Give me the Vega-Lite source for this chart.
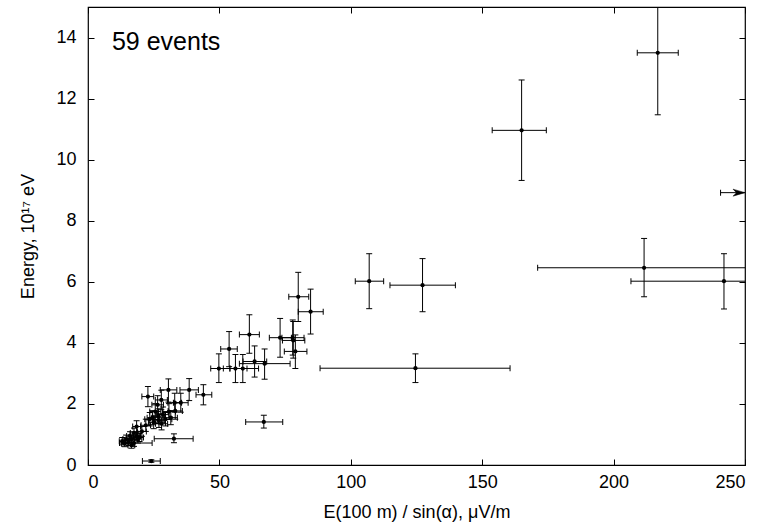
{
  "$schema": "https://vega.github.io/schema/vega-lite/v6.json",
  "width": 657,
  "height": 458,
  "autosize": {"type": "none"},
  "padding": {"left": 88, "top": 7, "right": 19, "bottom": 59},
  "background": "white",
  "config": {
    "view": {"stroke": "black", "strokeWidth": 1.2},
    "axis": {
      "domain": false, "grid": false, "ticks": true, "tickColor": "black",
      "tickSize": -6, "tickWidth": 1, "labelPadding": 10,
      "labelFont": "Liberation Sans", "labelFontSize": 18, "labelColor": "black",
      "titleFont": "Liberation Sans", "titleFontSize": 18, "titleFontWeight": "normal", "titleColor": "black"
    }
  },
  "datasets": {
    "pts": [
      {"x": 216.8, "y": 13.5, "xlo": 209.0, "xhi": 224.6, "ylo": 11.47, "yhi": 15.5},
      {"x": 165.0, "y": 10.96, "xlo": 153.8, "xhi": 174.4, "ylo": 9.32, "yhi": 12.61},
      {"x": 211.6, "y": 6.46, "xlo": 171.1, "xhi": 270, "ylo": 5.51, "yhi": 7.42},
      {"x": 242.0, "y": 6.02, "xlo": 206.6, "xhi": 280, "ylo": 5.11, "yhi": 6.92},
      {"x": 107.0, "y": 6.02, "xlo": 101.7, "xhi": 112.5, "ylo": 5.12, "yhi": 6.92},
      {"x": 127.3, "y": 5.89, "xlo": 114.9, "xhi": 139.8, "ylo": 5.02, "yhi": 6.76},
      {"x": 124.6, "y": 3.17, "xlo": 88.3, "xhi": 160.6, "ylo": 2.70, "yhi": 3.64},
      {"x": 80.0, "y": 5.51, "xlo": 76.4, "xhi": 84.0, "ylo": 4.70, "yhi": 6.31},
      {"x": 84.7, "y": 5.02, "xlo": 80.0, "xhi": 89.5, "ylo": 4.29, "yhi": 5.76},
      {"x": 61.4, "y": 4.27, "xlo": 57.6, "xhi": 65.2, "ylo": 3.66, "yhi": 4.92},
      {"x": 53.7, "y": 3.80, "xlo": 50.5, "xhi": 56.8, "ylo": 3.22, "yhi": 4.37},
      {"x": 73.1, "y": 4.17, "xlo": 69.0, "xhi": 77.4, "ylo": 3.53, "yhi": 4.80},
      {"x": 77.9, "y": 4.17, "xlo": 73.8, "xhi": 82.2, "ylo": 3.60, "yhi": 4.75},
      {"x": 78.1, "y": 4.08, "xlo": 74.0, "xhi": 82.5, "ylo": 3.50, "yhi": 4.70},
      {"x": 78.9, "y": 3.72, "xlo": 74.7, "xhi": 83.3, "ylo": 3.16, "yhi": 4.26},
      {"x": 67.2, "y": 3.32, "xlo": 57.6, "xhi": 76.9, "ylo": 2.81, "yhi": 3.80},
      {"x": 63.4, "y": 3.39, "xlo": 59.0, "xhi": 68.0, "ylo": 2.88, "yhi": 3.90},
      {"x": 58.9, "y": 3.16, "xlo": 54.0, "xhi": 64.9, "ylo": 2.70, "yhi": 3.62},
      {"x": 56.1, "y": 3.16, "xlo": 51.5, "xhi": 60.5, "ylo": 2.70, "yhi": 3.62},
      {"x": 49.8, "y": 3.16, "xlo": 46.7, "xhi": 54.0, "ylo": 2.70, "yhi": 3.64},
      {"x": 43.9, "y": 2.30, "xlo": 41.1, "xhi": 47.1, "ylo": 1.97, "yhi": 2.63},
      {"x": 38.5, "y": 2.46, "xlo": 35.0, "xhi": 42.0, "ylo": 2.11, "yhi": 2.83},
      {"x": 66.9, "y": 1.41, "xlo": 60.0, "xhi": 74.1, "ylo": 1.21, "yhi": 1.63},
      {"x": 32.7, "y": 0.86, "xlo": 25.2, "xhi": 40.0, "ylo": 0.73, "yhi": 1.02},
      {"x": 24.1, "y": 0.13, "xlo": 20.7, "xhi": 27.5, "ylo": 0.09, "yhi": 0.17},
      {"x": 22.8, "y": 2.24, "xlo": 20.5, "xhi": 25.0, "ylo": 1.91, "yhi": 2.57},
      {"x": 30.6, "y": 2.46, "xlo": 27.5, "xhi": 33.8, "ylo": 2.06, "yhi": 2.82},
      {"x": 27.9, "y": 2.13, "xlo": 25.6, "xhi": 30.2, "ylo": 1.81, "yhi": 2.45},
      {"x": 33.0, "y": 2.04, "xlo": 30.4, "xhi": 35.6, "ylo": 1.73, "yhi": 2.35},
      {"x": 35.3, "y": 2.04, "xlo": 32.5, "xhi": 38.1, "ylo": 1.73, "yhi": 2.35},
      {"x": 26.5, "y": 1.97, "xlo": 24.3, "xhi": 28.7, "ylo": 1.67, "yhi": 2.27},
      {"x": 25.6, "y": 1.75, "xlo": 23.5, "xhi": 27.7, "ylo": 1.49, "yhi": 2.01},
      {"x": 30.8, "y": 1.75, "xlo": 28.3, "xhi": 33.3, "ylo": 1.49, "yhi": 2.01},
      {"x": 33.2, "y": 1.77, "xlo": 30.5, "xhi": 35.9, "ylo": 1.50, "yhi": 2.04},
      {"x": 24.5, "y": 1.55, "xlo": 22.5, "xhi": 26.5, "ylo": 1.32, "yhi": 1.78},
      {"x": 26.8, "y": 1.60, "xlo": 24.6, "xhi": 29.0, "ylo": 1.36, "yhi": 1.84},
      {"x": 28.5, "y": 1.65, "xlo": 26.2, "xhi": 30.8, "ylo": 1.40, "yhi": 1.90},
      {"x": 29.5, "y": 1.50, "xlo": 27.1, "xhi": 31.9, "ylo": 1.28, "yhi": 1.72},
      {"x": 27.0, "y": 1.45, "xlo": 24.8, "xhi": 29.2, "ylo": 1.23, "yhi": 1.67},
      {"x": 25.0, "y": 1.40, "xlo": 23.0, "xhi": 27.0, "ylo": 1.19, "yhi": 1.61},
      {"x": 23.5, "y": 1.50, "xlo": 21.6, "xhi": 25.4, "ylo": 1.28, "yhi": 1.72},
      {"x": 31.5, "y": 1.55, "xlo": 29.0, "xhi": 34.0, "ylo": 1.32, "yhi": 1.78},
      {"x": 28.0, "y": 1.35, "xlo": 25.7, "xhi": 30.3, "ylo": 1.15, "yhi": 1.55},
      {"x": 22.0, "y": 1.30, "xlo": 20.2, "xhi": 23.8, "ylo": 1.10, "yhi": 1.50},
      {"x": 18.5, "y": 1.26, "xlo": 17.0, "xhi": 20.0, "ylo": 1.07, "yhi": 1.45},
      {"x": 20.5, "y": 1.10, "xlo": 18.8, "xhi": 22.2, "ylo": 0.94, "yhi": 1.26},
      {"x": 17.5, "y": 1.05, "xlo": 16.1, "xhi": 18.9, "ylo": 0.89, "yhi": 1.21},
      {"x": 16.0, "y": 0.95, "xlo": 14.7, "xhi": 17.3, "ylo": 0.81, "yhi": 1.09},
      {"x": 18.5, "y": 0.95, "xlo": 17.0, "xhi": 20.0, "ylo": 0.81, "yhi": 1.09},
      {"x": 14.5, "y": 0.85, "xlo": 13.3, "xhi": 15.7, "ylo": 0.72, "yhi": 0.98},
      {"x": 16.5, "y": 0.85, "xlo": 15.2, "xhi": 17.8, "ylo": 0.72, "yhi": 0.98},
      {"x": 19.0, "y": 0.85, "xlo": 17.5, "xhi": 20.5, "ylo": 0.72, "yhi": 0.98},
      {"x": 13.0, "y": 0.78, "xlo": 11.9, "xhi": 14.1, "ylo": 0.66, "yhi": 0.90},
      {"x": 15.5, "y": 0.75, "xlo": 14.2, "xhi": 16.8, "ylo": 0.64, "yhi": 0.86},
      {"x": 17.5, "y": 0.72, "xlo": 12.0, "xhi": 24.4, "ylo": 0.61, "yhi": 0.83},
      {"x": 14.0, "y": 0.70, "xlo": 12.8, "xhi": 15.2, "ylo": 0.60, "yhi": 0.80},
      {"x": 16.5, "y": 0.65, "xlo": 15.2, "xhi": 17.8, "ylo": 0.55, "yhi": 0.75},
      {"x": 19.5, "y": 0.90, "xlo": 17.9, "xhi": 21.1, "ylo": 0.77, "yhi": 1.03}
    ],
    "arrow": [{"xlo": 240.7, "xhi": 250, "y": 8.92}],
    "note": [{"tx": 9.1, "ty": 13.58, "label": "59 events"}]
  },
  "resolve": {"axis": {"x": "independent", "y": "independent"}},
  "layer": [
    {
      "data": {"name": "pts"},
      "mark": {"type": "point", "opacity": 0},
      "encoding": {
        "x": {"field": "x", "type": "quantitative", "scale": {"domain": [0, 250], "nice": false},
              "axis": {"orient": "top", "labels": false, "title": null, "values": [0, 50, 100, 150, 200, 250]}},
        "y": {"field": "y", "type": "quantitative", "scale": {"domain": [0, 15], "nice": false},
              "axis": {"orient": "right", "labels": false, "title": null, "values": [0, 2, 4, 6, 8, 10, 12, 14]}}
      }
    },
    {
      "data": {"name": "pts"},
      "mark": {"type": "rule", "color": "black", "strokeWidth": 1, "clip": true},
      "encoding": {
        "x": {"field": "xlo", "type": "quantitative", "scale": {"domain": [0, 250], "nice": false}, "axis": null},
        "x2": {"field": "xhi"},
        "y": {"field": "y", "type": "quantitative", "scale": {"domain": [0, 15], "nice": false}, "axis": null}
      }
    },
    {
      "data": {"name": "pts"},
      "mark": {"type": "rule", "color": "black", "strokeWidth": 1, "clip": true},
      "encoding": {
        "x": {"field": "x", "type": "quantitative", "scale": {"domain": [0, 250], "nice": false}, "axis": null},
        "y": {"field": "ylo", "type": "quantitative", "scale": {"domain": [0, 15], "nice": false}, "axis": null},
        "y2": {"field": "yhi"}
      }
    },
    {
      "data": {"name": "pts"},
      "mark": {"type": "tick", "orient": "vertical", "size": 6, "thickness": 1, "color": "black", "opacity": 1, "clip": true},
      "encoding": {
        "x": {"field": "xlo", "type": "quantitative", "scale": {"domain": [0, 250], "nice": false}, "axis": null},
        "y": {"field": "y", "type": "quantitative", "scale": {"domain": [0, 15], "nice": false}, "axis": null}
      }
    },
    {
      "data": {"name": "pts"},
      "mark": {"type": "tick", "orient": "vertical", "size": 6, "thickness": 1, "color": "black", "opacity": 1, "clip": true},
      "encoding": {
        "x": {"field": "xhi", "type": "quantitative", "scale": {"domain": [0, 250], "nice": false}, "axis": null},
        "y": {"field": "y", "type": "quantitative", "scale": {"domain": [0, 15], "nice": false}, "axis": null}
      }
    },
    {
      "data": {"name": "pts"},
      "mark": {"type": "tick", "orient": "horizontal", "size": 6, "thickness": 1, "color": "black", "opacity": 1, "clip": true},
      "encoding": {
        "x": {"field": "x", "type": "quantitative", "scale": {"domain": [0, 250], "nice": false}, "axis": null},
        "y": {"field": "ylo", "type": "quantitative", "scale": {"domain": [0, 15], "nice": false}, "axis": null}
      }
    },
    {
      "data": {"name": "pts"},
      "mark": {"type": "tick", "orient": "horizontal", "size": 6, "thickness": 1, "color": "black", "opacity": 1, "clip": true},
      "encoding": {
        "x": {"field": "x", "type": "quantitative", "scale": {"domain": [0, 250], "nice": false}, "axis": null},
        "y": {"field": "yhi", "type": "quantitative", "scale": {"domain": [0, 15], "nice": false}, "axis": null}
      }
    },
    {
      "data": {"name": "arrow"},
      "mark": {"type": "rule", "color": "black", "strokeWidth": 1, "clip": true},
      "encoding": {
        "x": {"field": "xlo", "type": "quantitative", "scale": {"domain": [0, 250], "nice": false}, "axis": null},
        "x2": {"field": "xhi"},
        "y": {"field": "y", "type": "quantitative", "scale": {"domain": [0, 15], "nice": false}, "axis": null}
      }
    },
    {
      "data": {"name": "arrow"},
      "mark": {"type": "tick", "orient": "vertical", "size": 6, "thickness": 1, "color": "black", "opacity": 1},
      "encoding": {
        "x": {"field": "xlo", "type": "quantitative", "scale": {"domain": [0, 250], "nice": false}, "axis": null},
        "y": {"field": "y", "type": "quantitative", "scale": {"domain": [0, 15], "nice": false}, "axis": null}
      }
    },
    {
      "data": {"name": "arrow"},
      "mark": {"type": "point", "shape": "M0,0L-1.2,-0.35L-0.85,0L-1.2,0.35Z", "size": 400, "filled": true, "fill": "black", "stroke": "black", "strokeWidth": 0.5, "opacity": 1, "fillOpacity": 1},
      "encoding": {
        "x": {"field": "xhi", "type": "quantitative", "scale": {"domain": [0, 250], "nice": false}, "axis": null},
        "y": {"field": "y", "type": "quantitative", "scale": {"domain": [0, 15], "nice": false}, "axis": null}
      }
    },
    {
      "data": {"name": "pts"},
      "mark": {"type": "circle", "size": 18, "color": "black", "opacity": 1, "clip": true},
      "encoding": {
        "x": {"field": "x", "type": "quantitative", "scale": {"domain": [0, 250], "nice": false},
              "axis": {"orient": "bottom", "title": "E(100 m) / sin(α), μV/m", "values": [0, 50, 100, 150, 200, 250], "labelPadding": 14, "titlePadding": 12}},
        "y": {"field": "y", "type": "quantitative", "scale": {"domain": [0, 15], "nice": false},
              "axis": {"orient": "left", "title": "Energy, 10¹⁷ eV", "values": [0, 2, 4, 6, 8, 10, 12, 14], "labelPadding": 18, "titlePadding": 18}}
      }
    },
    {
      "data": {"name": "note"},
      "mark": {"type": "text", "align": "left", "baseline": "alphabetic", "fontSize": 25, "font": "Liberation Sans", "color": "black"},
      "encoding": {
        "x": {"field": "tx", "type": "quantitative", "scale": {"domain": [0, 250], "nice": false}, "axis": null},
        "y": {"field": "ty", "type": "quantitative", "scale": {"domain": [0, 15], "nice": false}, "axis": null},
        "text": {"field": "label"}
      }
    }
  ]
}
